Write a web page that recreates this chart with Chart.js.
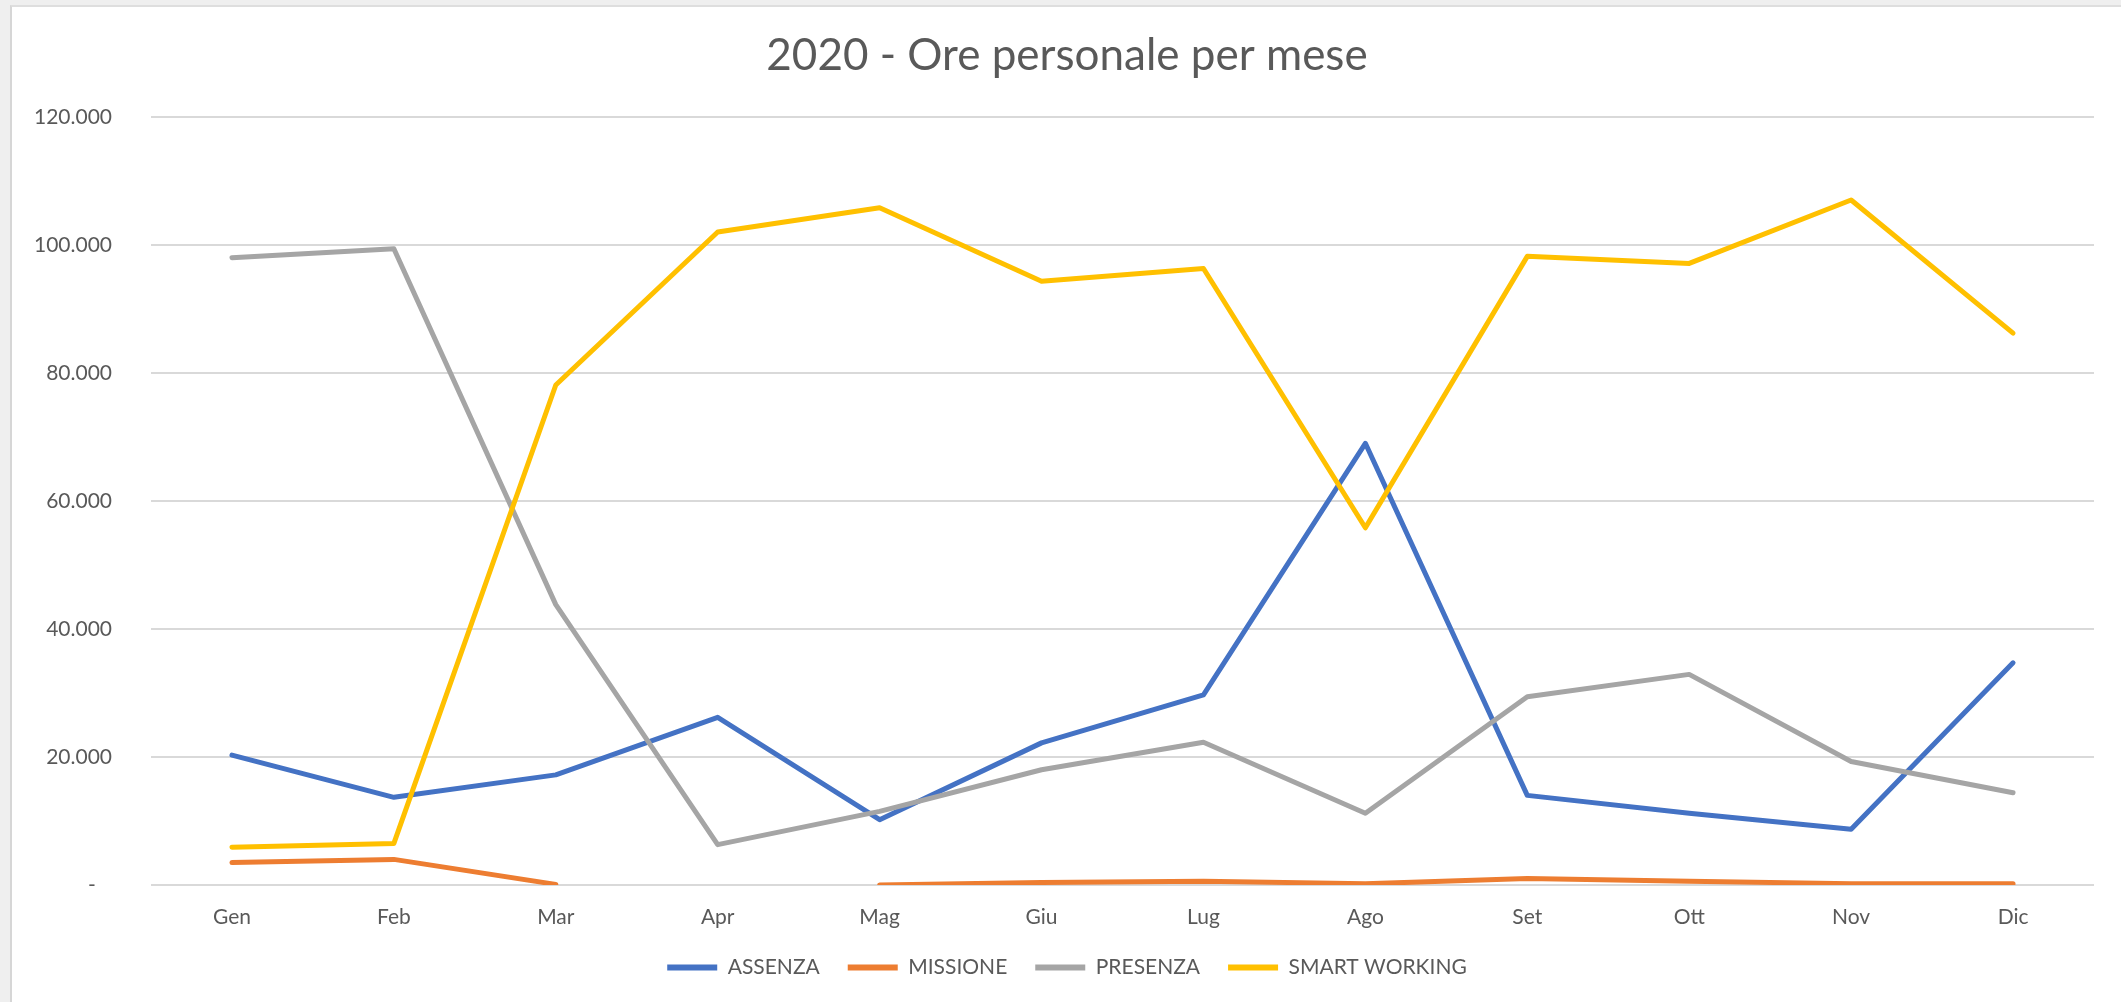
<!DOCTYPE html>
<html>
<head>
<meta charset="utf-8">
<script src="https://cdn.jsdelivr.net/npm/chart.js@4/dist/chart.umd.min.js"></script>
<style>
  html, body { margin: 0; padding: 0; background: #efefef; overflow: hidden; }
  #frame {
    position: absolute; left: 10px; top: 5px; right: 0; bottom: 0;
    background: #fff;
    border-left: 2px solid #d6d6d6;
    border-top: 2px solid #dedede;
  }
  #myChart { position: absolute; left: 1px; top: 1px; }
</style>
</head>
<body>
<div id="frame"><canvas id="myChart" width="2108" height="994"></canvas></div>
<script>
const months = ['Gen', 'Feb', 'Mar', 'Apr', 'Mag', 'Giu', 'Lug', 'Ago', 'Set', 'Ott', 'Nov', 'Dic'];
const assenza = [20300, 13700, 17200, 26200, 10200, 22200, 29700, 69000, 14000, 11200, 8700, 34700];
const missione = [3500, 4000, 100, null, 0, 400, 600, 200, 1000, 600, 200, 200];
const presenza = [98000, 99400, 43800, 6300, 11500, 18000, 22300, 11200, 29400, 32900, 19300, 14400];
const smartWorking = [5900, 6500, 78100, 102000, 105800, 94300, 96300, 55800, 98200, 97100, 107000, 86200];
const yTicks = [0, 20000, 40000, 60000, 80000, 100000, 120000];

const textColor = '#595959';
const fontFamily = 'Lato, "Liberation Sans", sans-serif';

// excel style: 20.000, and a dash for zero
function fmt(v) {
  if (v === 0) return '-   ';
  return String(v).replace(/\B(?=(\d{3})+(?!\d))/g, '.');
}

function line(label, values, color, order) {
  return {
    label: label,
    data: values,
    borderColor: color,
    backgroundColor: color,
    borderWidth: 5,
    borderCapStyle: 'round',
    borderJoinStyle: 'round',
    pointRadius: 0,
    pointHoverRadius: 0,
    tension: 0,
    spanGaps: false,
    order: order
  };
}

const data = {
  labels: months,
  datasets: [
    line('ASSENZA', assenza, '#4472C4', 3),
    line('MISSIONE', missione, '#ED7D31', 2),
    line('PRESENZA', presenza, '#A5A5A5', 1),
    line('SMART WORKING', smartWorking, '#FFC000', 0)
  ]
};

const config = {
  type: 'line',
  data: data,
  options: {
    responsive: false,
    animation: false,
    layout: { padding: { left: 0, right: 0, top: 0, bottom: 14 } },
    plugins: {
      title: {
        display: true,
        text: '2020 - Ore personale per mese',
        color: textColor,
        font: { family: fontFamily, size: 44, weight: 'normal' },
        padding: { top: 21, bottom: 35 }
      },
      legend: {
        position: 'bottom',
        labels: {
          usePointStyle: true,
          pointStyle: 'line',
          pointStyleWidth: 50,
          color: textColor,
          font: { family: fontFamily, size: 21 },
          padding: 28,
          sort: (a, b) => a.datasetIndex - b.datasetIndex,
          generateLabels: (chart) => Chart.defaults.plugins.legend.labels
            .generateLabels(chart).map(l => Object.assign(l, { lineWidth: 6 }))
        }
      },
      tooltip: { enabled: false }
    },
    scales: {
      x: {
        offset: true,
        afterFit: (scale) => { scale.height = 44; },
        grid: { display: false, drawTicks: false, offset: true },
        border: { display: false },
        ticks: {
          color: textColor,
          font: { family: fontFamily, size: 21 },
          padding: 20,
          maxRotation: 0
        }
      },
      y: {
        min: 0,
        max: 120000,
        afterFit: (scale) => { scale.width = 138; },
        afterBuildTicks: (scale) => { scale.ticks = yTicks.map(v => ({ value: v })); },
        grid: { color: '#d9d9d9', lineWidth: 2, drawTicks: false },
        border: { display: false },
        ticks: {
          color: textColor,
          font: { family: fontFamily, size: 21 },
          padding: 39,
          callback: (v) => fmt(v)
        }
      },
      // empty right axis, only keeps a margin so title/legend stay centred on the canvas
      yRight: {
        position: 'right',
        afterFit: (scale) => { scale.width = 27; },
        grid: { display: false, drawTicks: false },
        border: { display: false },
        ticks: { display: false }
      }
    }
  }
};

const myChart = new Chart(
  document.getElementById('myChart'),
  config
);
</script>
</body>
</html>
